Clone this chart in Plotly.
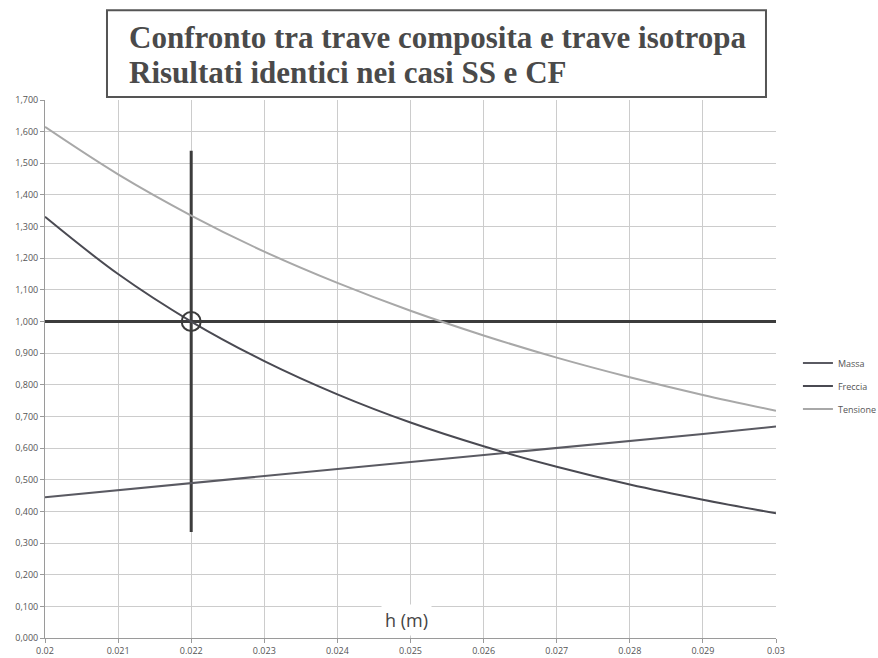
import plotly.graph_objects as go

# Beam height h (m)
h = [0.020, 0.021, 0.022, 0.023, 0.024, 0.025, 0.026, 0.027, 0.028, 0.029, 0.030]

# Ratios composite / isotropic beam
massa = [0.445, 0.467, 0.490, 0.512, 0.534, 0.556, 0.579, 0.601, 0.623, 0.645, 0.668]
freccia = [1.331, 1.150, 1.000, 0.875, 0.770, 0.681, 0.606, 0.541, 0.485, 0.437, 0.394]
tensione = [1.615, 1.465, 1.335, 1.221, 1.122, 1.034, 0.956, 0.886, 0.824, 0.768, 0.718]

# Reference point (equal deflection)
h_ref = 0.022
ratio_ref = 1.0
v_line_span = [0.335, 1.54]

x_ticks = [0.020, 0.021, 0.022, 0.023, 0.024, 0.025, 0.026, 0.027, 0.028, 0.029, 0.030]
x_tick_text = ["0.02", "0.021", "0.022", "0.023", "0.024", "0.025", "0.026", "0.027", "0.028", "0.029", "0.03"]
y_ticks = [0.0, 0.1, 0.2, 0.3, 0.4, 0.5, 0.6, 0.7, 0.8, 0.9, 1.0, 1.1, 1.2, 1.3, 1.4, 1.5, 1.6, 1.7]
y_tick_text = ["0,000", "0,100", "0,200", "0,300", "0,400", "0,500", "0,600", "0,700", "0,800",
               "0,900", "1,000", "1,100", "1,200", "1,300", "1,400", "1,500", "1,600", "1,700"]

fig = go.Figure()

# Reference cross lines
fig.add_trace(go.Scatter(x=[h[0], h[-1]], y=[ratio_ref, ratio_ref], mode="lines",
                         line=dict(color="#3c3c3c", width=3), showlegend=False, hoverinfo="skip"))
fig.add_trace(go.Scatter(x=[h_ref, h_ref], y=v_line_span, mode="lines",
                         line=dict(color="#3c3c3c", width=3), showlegend=False, hoverinfo="skip"))

fig.add_trace(go.Scatter(x=h, y=massa, mode="lines", name="Massa",
                         line=dict(color="#5a5a62", width=2), legendgroup="a"))
fig.add_trace(go.Scatter(x=h, y=freccia, mode="lines", name="Freccia",
                         line=dict(color="#4a4a52", width=2, shape="spline", smoothing=1.0),
                         legendgroup="b"))
fig.add_trace(go.Scatter(x=h, y=tensione, mode="lines", name="Tensione",
                         line=dict(color="#a8a8a8", width=2, shape="spline", smoothing=1.0),
                         legendgroup="c"))

# Circle at the reference point
fig.add_trace(go.Scatter(x=[h_ref], y=[ratio_ref], mode="markers", showlegend=False, hoverinfo="skip",
                         marker=dict(symbol="circle-open", size=19, color="#3c3c3c",
                                     line=dict(width=2, color="#3c3c3c"))))

# Title box
fig.add_shape(type="rect", xref="paper", yref="paper", x0=0.0848, x1=0.9863, y0=1.0056, y1=1.167,
              line=dict(color="#555555", width=2), fillcolor="white", layer="above")
title_font = dict(family="Liberation Serif", size=31, color="#4a4a4a")
fig.add_annotation(xref="paper", yref="paper", x=0.1116, y=1.116, xanchor="left", yanchor="middle",
                   text="<b>Confronto tra trave composita e trave isotropa</b>", showarrow=False,
                   font=title_font)
fig.add_annotation(xref="paper", yref="paper", x=0.1116, y=1.051, xanchor="left", yanchor="middle",
                   text="<b>Risultati identici nei casi SS e CF</b>", showarrow=False,
                   font=title_font)

# Axis title inside the plot
fig.add_annotation(x=0.02495, y=0.057, xref="x", yref="y", text="h (m)", showarrow=False,
                   font=dict(family="Open Sans", size=18, color="#444444"),
                   bgcolor="white", borderpad=3)

fig.update_layout(
    width=878, height=658,
    margin=dict(l=45, r=102, t=100, b=20, autoexpand=False),
    paper_bgcolor="white", plot_bgcolor="white",
    font=dict(family="Open Sans", size=9, color="#555555"),
    legend=dict(x=1.03, y=0.538, xanchor="left", yanchor="top", tracegroupgap=4,
                font=dict(size=9, color="#555555"), itemwidth=30, bgcolor="rgba(0,0,0,0)"),
    showlegend=True,
)
fig.update_xaxes(range=[0.02, 0.03], tickvals=x_ticks, ticktext=x_tick_text, automargin=False,
                 showgrid=True, gridcolor="#cccccc", gridwidth=1,
                 showline=True, linecolor="#9a9a9a", ticks="outside", ticklen=4, tickcolor="#9a9a9a",
                 zeroline=False, tickfont=dict(size=9, color="#555555"))
fig.update_yaxes(range=[0, 1.7], tickvals=y_ticks, ticktext=y_tick_text, automargin=False,
                 showgrid=True, gridcolor="#cccccc", gridwidth=1,
                 showline=True, linecolor="#9a9a9a", ticks="outside", ticklen=4, tickcolor="#9a9a9a",
                 zeroline=False, tickfont=dict(size=9, color="#555555"))

fig.write_html("out.html")
